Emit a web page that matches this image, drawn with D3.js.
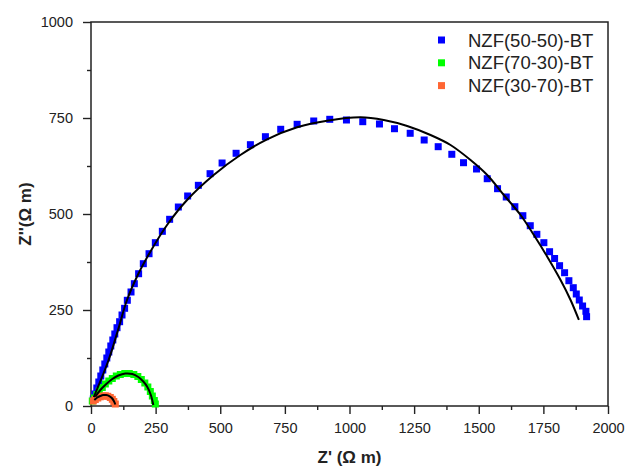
<!DOCTYPE html>
<html>
<head>
<meta charset="utf-8">
<script src="https://cdn.jsdelivr.net/npm/d3@7"></script>
<style>
  body { margin: 0; background: #fff; }
  text { font-family: "Liberation Sans", Arial, sans-serif; fill: #222; }
</style>
</head>
<body>
<div id="chart-area"></div>
<script>
// Z' / Z'' values
let blueX = [8.9, 14.7, 22.5, 30.2, 37.9, 45.7, 53.4, 61.2, 68.9, 76.6, 84.4, 92.1,
	100.6, 110.7, 120, 130, 140.5, 154.8, 167.6, 184.2, 202.4, 224.5, 248.9, 276, 304.2,
	337.9, 373.9, 415.3, 460.6, 507.1, 561.3, 616.6, 674.7, 733.9, 797.4, 861.6, 923.6,
	988.2, 1051.3, 1115.9, 1174, 1234.8, 1288.9, 1343.1, 1395.8, 1441.1, 1491.4, 1532.8,
	1572.7, 1606.4, 1639.7, 1670.6, 1699.3, 1724.8, 1751.9, 1774, 1793.4, 1812.7, 1832.1,
	1848.7, 1865.7, 1877.3, 1888.9, 1901.7, 1914.5, 1917.2];
let blueY = [18.2, 31.3, 46.9, 62.5, 78.1, 93.8, 109.4, 125, 140.6, 156.3, 171.9, 187.5,
	203.9, 219.5, 237, 254.4, 275.3, 296.9, 318.5, 344.5, 370.6, 396.6, 425.3, 454.9, 486.2,
	518.2, 546.9, 574.7, 605, 632.8, 658.1, 680.5, 701.3, 720.6, 733.6, 742.2, 746.6,
	744.8, 740.4, 734.4, 722.1, 710.2, 692.7, 675.3, 655.5, 633.6, 617.2, 591.9,
	565.9, 544.3, 519, 495.6, 469.5, 447.1, 425.3, 401.8, 384.1, 365.4, 347.1,
	326.3, 308.1, 291.7, 276, 260.4, 246.6, 232.6];

let greenX = [5.0, 12.8, 22.5, 32.1, 43.7, 55.4, 68.9, 82.4, 97.9, 113.4, 130.8, 148.2,
	165.7, 181.2, 194.7, 208.2, 219.9, 229.5, 237.3, 245.0, 248.9];
let greenY = [13.0, 20.8, 29.9, 39.1, 48.2, 57.3, 65.1, 71.6, 78.1, 82.0, 84.6, 84.6,
	82.0, 76.8, 69.0, 59.9, 49.5, 37.8, 26.0, 14.3, 5.2];

let orangeX = [8.9, 16.6, 26.3, 36.0, 45.7, 55.4, 65.0, 74.7, 82.4, 88.3, 94.1];
let orangeY = [13.0, 16.9, 20.8, 24.0, 26.0, 26.6, 25.3, 22.1, 17.4, 11.7, 5.2];

// fitted curves (black), read as points along each line
let fitBlueX = [10.8, 68.1, 104.5, 139.3, 184.2, 229.5, 294.2, 371.6, 474.6, 577.9, 681.2,
	797.4, 913.5, 1042.4, 1132.6, 1223.2, 1313.4, 1390.8, 1468.2, 1532.8, 1597.1, 1661.7,
	1713.2, 1765, 1816.5, 1855.2, 1887.4];
let fitBlueY = [23.4, 119.8, 197.9, 276, 345.6, 401.8, 471.4, 536.5, 601.6, 653.6, 694.5,
	725.8, 743, 751.8, 744.8, 729.2, 705.7, 679.7, 640.6, 601.6, 549.5, 497.4,
	445.3, 388.8, 328.1, 276, 224];
let fitGreenX = [16.6, 36, 59.2, 82.4, 105.7, 132.8, 159.9, 183.1, 202.4, 217.9, 231.5, 241.1];
let fitGreenY = [24.2, 41.7, 57.3, 70.3, 79.4, 84.6, 83.3, 75.5, 63.8, 49.5, 28.6, 2.6];
let fitOrangeX = [12.8, 24.4, 36, 47.6, 59.2, 70.8, 80.5, 88.3, 94.1];
let fitOrangeY = [15.6, 22.1, 26, 28.6, 28.6, 26, 20.8, 13, 3.9];

let seriesNames = ["NZF(50-50)-BT", "NZF(70-30)-BT", "NZF(30-70)-BT"];
let seriesColors = ["#0000ff", "#00ff00", "#ff6633"];

let majorTicks = [0, 250, 500, 750, 1000, 1250, 1500, 1750, 2000];
let minorTicksX = [125, 375, 625, 875, 1125, 1375, 1625, 1875];
let majorTicksY = [0, 250, 500, 750, 1000];
let minorTicksY = [125, 375, 625, 875];

const zip = (xs, ys) => xs.map((v, i) => [v, ys[i]]);

let svg = d3.select("#chart-area")
	.append("svg")
	.attr("width", 625)
	.attr("height", 468);

// Scales
let x = d3.scaleLinear().domain([0, 2000]).range([91, 608]);
let y = d3.scaleLinear().domain([0, 1000]).range([406, 22]);

// X Axis
svg.append("g")
	.attr("transform", "translate(0,406)")
	.call(d3.axisBottom(x).tickValues(minorTicksX).tickSize(4).tickFormat(""))
	.call(g => g.select(".domain").remove());
let xAx = svg.append("g")
	.attr("transform", "translate(0,406)")
	.call(d3.axisBottom(x).tickValues(majorTicks).tickSize(8).tickPadding(9).tickFormat(d3.format("d")));
xAx.select(".domain").remove();

// Y Axis
svg.append("g")
	.attr("transform", "translate(91,0)")
	.call(d3.axisLeft(y).tickValues(minorTicksY).tickSize(4).tickFormat(""))
	.call(g => g.select(".domain").remove());
let yAx = svg.append("g")
	.attr("transform", "translate(91,0)")
	.call(d3.axisLeft(y).tickValues(majorTicksY).tickSize(8).tickPadding(10).tickFormat(d3.format("d")));
yAx.select(".domain").remove();

svg.selectAll(".tick line").attr("stroke", "#222").attr("stroke-width", 1.4);
svg.selectAll(".tick text")
	.attr("font-size", "14.5px")
	.attr("font-family", "Liberation Sans, Arial, sans-serif")
	.attr("fill", "#222");

// frame
svg.append("rect")
	.attr("x", x(0))
	.attr("y", y(1000))
	.attr("width", x(2000) - x(0))
	.attr("height", y(0) - y(1000))
	.attr("fill", "none")
	.attr("stroke", "#222")
	.attr("stroke-width", 1.5);

// Labels
svg.append("text")
	.attr("x", (x(0) + x(2000)) / 2)
	.attr("y", 463)
	.attr("text-anchor", "middle")
	.attr("font-size", "17px")
	.attr("font-weight", "bold")
	.text("Z' (\u03A9 m)");

svg.append("text")
	.attr("transform", "translate(31," + ((y(0) + y(1000)) / 2) + ") rotate(-90)")
	.attr("text-anchor", "middle")
	.attr("font-size", "17px")
	.attr("font-weight", "bold")
	.text("Z''(\u03A9 m)");

// markers
let markerSize = 7;
let sets = [zip(blueX, blueY), zip(greenX, greenY), zip(orangeX, orangeY)];
sets.forEach((pts, i) => {
	svg.append("g")
		.selectAll("rect")
		.data(pts)
		.enter()
		.append("rect")
		.attr("x", d => x(d[0]) - markerSize / 2)
		.attr("y", d => y(d[1]) - markerSize / 2)
		.attr("width", markerSize)
		.attr("height", markerSize)
		.attr("fill", seriesColors[i]);
});

// fits
let line = d3.line()
	.x(d => x(d[0]))
	.y(d => y(d[1]))
	.curve(d3.curveCatmullRom);
[zip(fitBlueX, fitBlueY), zip(fitGreenX, fitGreenY), zip(fitOrangeX, fitOrangeY)].forEach(pts => {
	svg.append("path")
		.attr("d", line(pts))
		.attr("fill", "none")
		.attr("stroke", "#000")
		.attr("stroke-width", 2);
});

// Legend
let legend = svg.append("g");
seriesNames.forEach((name, i) => {
	let row = legend.append("g")
		.attr("transform", "translate(0," + (40 + i * 22.8) + ")");
	row.append("rect")
		.attr("x", 438)
		.attr("y", -3.5)
		.attr("width", 7)
		.attr("height", 7)
		.attr("fill", seriesColors[i]);
	row.append("text")
		.attr("x", 468)
		.attr("y", 6.5)
		.attr("font-size", "18.5px")
		.text(name);
});
</script>
</body>
</html>
